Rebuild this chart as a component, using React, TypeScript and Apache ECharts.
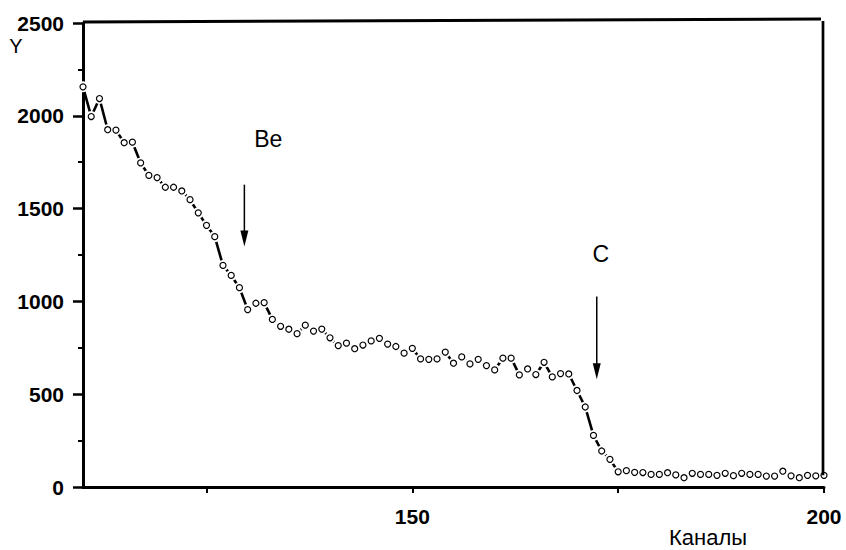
import React, { useEffect, useRef } from "react";
import * as echarts from "echarts";

const channels = [
  110, 111, 112, 113, 114, 115, 116, 117, 118, 119,
  120, 121, 122, 123, 124, 125, 126, 127, 128, 129,
  130, 131, 132, 133, 134, 135, 136, 137, 138, 139,
  140, 141, 142, 143, 144, 145, 146, 147, 148, 149,
  150, 151, 152, 153, 154, 155, 156, 157, 158, 159,
  160, 161, 162, 163, 164, 165, 166, 167, 168, 169,
  170, 171, 172, 173, 174, 175, 176, 177, 178, 179,
  180, 181, 182, 183, 184, 185, 186, 187, 188, 189,
  190, 191, 192, 193, 194, 195, 196, 197, 198, 199,
  200,
];

const counts = [
  2156, 1996, 2093, 1925, 1923, 1855, 1858, 1746, 1679, 1667,
  1615, 1615, 1595, 1548, 1477, 1410, 1349, 1194, 1140, 1074,
  956, 990, 993, 903, 866, 850, 826, 872, 840, 851,
  804, 762, 775, 745, 765, 787, 801, 770, 757, 721,
  747, 690, 688, 690, 727, 667, 701, 663, 688, 654,
  631, 694, 694, 604, 636, 606, 672, 593, 611, 609,
  520, 431, 278, 194, 149, 82, 88, 79, 78, 68,
  68, 77, 65, 50, 74, 68, 68, 63, 74, 61,
  74, 68, 68, 59, 59, 85, 60, 50, 63, 60,
  63,
];

const xTickValues = [125, 150, 175, 200];
const xLabelValues = [150, 200];

// annotations: [label, arrowX, arrowTopY, arrowTipY, labelX, labelY]
const annotations: [string, number, number, number, number, number][] = [
  ["Be", 129.6, 1629, 1296, 132.5, 1876],
  ["C", 172.4, 1027, 581, 172.9, 1258],
];

const FONT = "'Liberation Sans', Arial, sans-serif";

export default function App() {
  const ref = useRef<HTMLDivElement>(null);

  useEffect(() => {
    document.body.style.margin = "0";
    if (!ref.current) return;
    const chart = echarts.init(ref.current, null, { renderer: "svg" });
    const pts = channels.map((c, i) => [c, counts[i]]);
    const option: any = {
      animation: false,
      backgroundColor: "#ffffff",
      grid: { left: 83, top: 23, width: 741, height: 464, containLabel: false },
      xAxis: {
        type: "value",
        min: 110,
        max: 200,
        splitLine: { show: false },
        axisLine: { show: true, lineStyle: { color: "#000", width: 3 } },
        axisTick: {
          show: true,
          customValues: xTickValues,
          length: 6,
          lineStyle: { color: "#000", width: 2 },
        },
        axisLabel: {
          customValues: xLabelValues,
          margin: 19,
          color: "#000",
          fontSize: 21,
          fontWeight: "bold",
          fontFamily: FONT,
          formatter: (v: number) => String(v),
        },
      },
      yAxis: {
        type: "value",
        min: 0,
        max: 2500,
        interval: 500,
        splitLine: { show: false },
        axisLine: { show: true, lineStyle: { color: "#000", width: 3 } },
        axisTick: { show: true, length: 10, lineStyle: { color: "#000", width: 2.5 } },
        minorTick: { show: true, splitNumber: 2, length: 5, lineStyle: { color: "#000", width: 2 } },
        axisLabel: {
          margin: 19,
          color: "#000",
          fontSize: 21,
          fontWeight: "bold",
          fontFamily: FONT,
          formatter: (v: number) => String(v),
        },
      },
      series: [
        {
          type: "line",
          data: pts,
          showSymbol: false,
          symbol: "none",
          clip: false,
          z: 2,
          lineStyle: { color: "#000", width: 2.6 },
        },
        {
          type: "scatter",
          data: pts,
          symbol: "circle",
          symbolSize: 11,
          clip: false,
          z: 3,
          itemStyle: { color: "#fff", borderWidth: 0, opacity: 1 },
        },
        {
          type: "scatter",
          data: pts,
          symbol: "circle",
          symbolSize: 6,
          clip: false,
          z: 4,
          itemStyle: { color: "#fff", borderColor: "#000", borderWidth: 1.2, opacity: 1 },
        },
      ],
    };
    chart.setOption(option);

    const px = (x: number, y: number) => chart.convertToPixel({ gridIndex: 0 }, [x, y]) as number[];
    const graphics: any[] = [];
    const tl = px(110, 2500);
    const tr = px(200, 2500);
    const lastPt = px(channels[channels.length - 1], counts[counts.length - 1]);
    graphics.push({
      type: "line",
      shape: { x1: tl[0], y1: tl[1] - 1, x2: tr[0] - 3, y2: tr[1] - 4 },
      style: { stroke: "#000", lineWidth: 3 },
      z: 10,
    });
    graphics.push({
      type: "line",
      shape: { x1: tr[0] - 1, y1: tr[1] - 2, x2: tr[0] - 1, y2: lastPt[1] },
      style: { stroke: "#000", lineWidth: 2.7 },
      z: 10,
    });
    annotations.forEach(([label, ax, ay1, ay2, lx, ly]) => {
      const a = px(ax, ay1);
      const b = px(ax, ay2);
      graphics.push({
        type: "line",
        shape: { x1: a[0], y1: a[1], x2: b[0], y2: b[1] - 12 },
        style: { stroke: "#000", lineWidth: 1.5 },
        z: 10,
      });
      graphics.push({
        type: "polygon",
        shape: {
          points: [
            [b[0] - 4, b[1] - 16],
            [b[0] + 4, b[1] - 16],
            [b[0], b[1]],
          ],
        },
        style: { fill: "#000" },
        z: 10,
      });
      const l = px(lx, ly);
      graphics.push({
        type: "text",
        x: l[0],
        y: l[1],
        style: {
          text: label,
          fill: "#000",
          font: `23px ${FONT}`,
          textAlign: "center",
          textVerticalAlign: "middle",
        },
        z: 10,
      });
    });
    graphics.push({
      type: "text",
      x: 16,
      y: 46,
      style: {
        text: "Y",
        fill: "#000",
        font: `20px ${FONT}`,
        textAlign: "center",
        textVerticalAlign: "middle",
      },
      z: 10,
    });
    graphics.push({
      type: "text",
      x: 708,
      y: 537,
      style: {
        text: "Каналы",
        fill: "#000",
        font: `22px ${FONT}`,
        textAlign: "center",
        textVerticalAlign: "middle",
      },
      z: 10,
    });
    chart.setOption({ graphic: graphics });

    return () => chart.dispose();
  }, []);

  return (
    <div
      ref={ref}
      style={{ position: "absolute", left: 0, top: 0, width: 846, height: 550, background: "#fff" }}
    />
  );
}
